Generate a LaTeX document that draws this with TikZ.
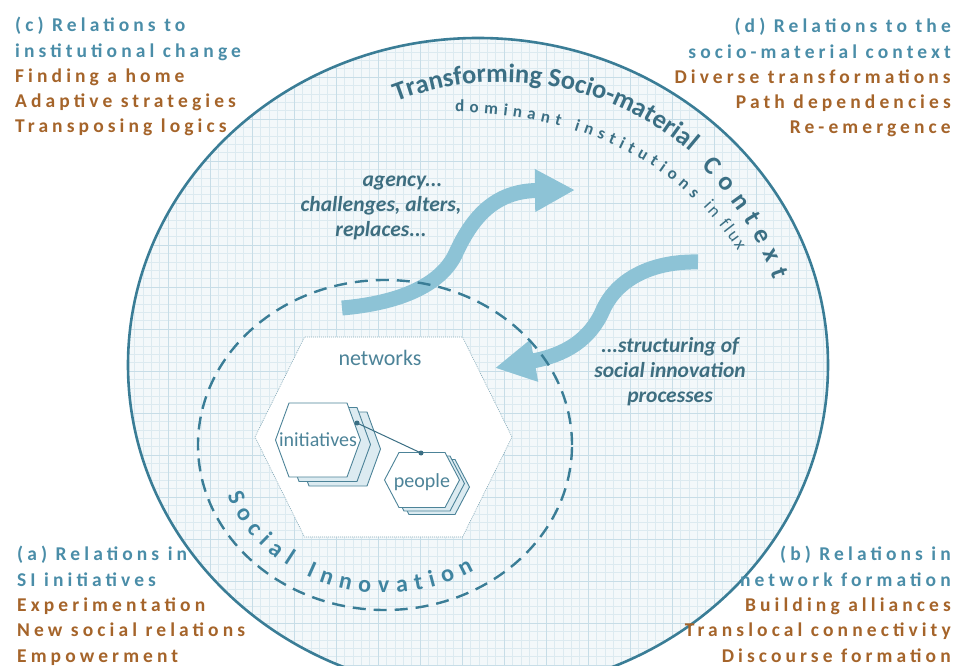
\documentclass[tikz,border=0pt]{standalone}
\usepackage{fontspec}
\setmainfont{Carlito}
\newfontfamily\spacedfont[LetterSpace=21]{Carlito}
\usepackage{tikz}
\usetikzlibrary{arrows.meta,calc,decorations.text}
\tikzset{>=stealth}

\definecolor{ctxline}{HTML}{3A7D96}
\definecolor{ctxtext}{HTML}{3B6F84}
\definecolor{sitext}{HTML}{3F84A0}
\definecolor{hdrblue}{HTML}{4A8DA8}
\definecolor{itembrown}{HTML}{A5642A}
\definecolor{arrowblue}{HTML}{8DC3D6}
\definecolor{flowcol}{HTML}{3E6E80}
\definecolor{gridfill}{HTML}{F3F8FA}
\definecolor{gridminor}{HTML}{DCEAF0}
\definecolor{gridmajor}{HTML}{C7DDE7}
\definecolor{hexline}{HTML}{4C8398}
\definecolor{stackback}{HTML}{DCEBF1}

\tikzset{
  minorgrid/.style={gridminor, line width=0.5pt},
  majorgrid/.style={gridmajor, line width=0.7pt},
  flowarrow/.style={arrowblue, line width=15pt, -{Triangle[length=40pt,width=40pt]}},
  sidash/.style={ctxline, line width=2.4pt, dash pattern=on 13pt off 8pt},
  nethex/.style={hexline!70, line width=0.6pt, dash pattern=on 1pt off 1pt, fill=white},
  stackhex/.style={hexline, line width=0.9pt},
  cornertext/.style={inner sep=0pt, text=itembrown, font=\spacedfont\bfseries\fontsize{19.5}{25.3}\selectfont},
  flowtext/.style={inner sep=0pt, align=center, text=flowcol, font=\bfseries\itshape\fontsize{21.5}{25}\selectfont},
  hextext/.style={inner sep=0pt, text=hexline, font=\fontsize{20}{22}\selectfont},
}
\newcommand\hd[1]{\textcolor{hdrblue}{#1}}
\def\hexpath[#1](#2)(#3:#4:#5){\draw[#1] ($(#2)+(-#3,0)$) -- ($(#2)+(-#5,#4)$) -- ($(#2)+(#5,#4)$) -- ($(#2)+(#3,0)$) -- ($(#2)+(#5,-#4)$) -- ($(#2)+(-#5,-#4)$) -- cycle;}

\begin{document}
\begin{tikzpicture}[x=1pt,y=1pt]
  \useasboundingbox (0,0) rectangle (956,665);
  \clip (0,0) rectangle (956,665);
  % Centres and radii
  \coordinate (ctx) at (478,300);
  \def\ctxA{350}
  \def\ctxB{327}
  \coordinate (arcc) at (501,291);
  \def\arcR{292}
  \coordinate (si) at (385,220);
  \def\siA{187}
  \def\siB{165}

  % Gridded context
  \begin{scope}
    \clip (ctx) ellipse [x radius=\ctxA, y radius=\ctxB];
    \fill[gridfill] (ctx) ellipse [x radius=\ctxA, y radius=\ctxB];
    \draw[minorgrid] (100,-40) grid[step=8.4] (860,640);
    \draw[majorgrid] (100,-40) grid[step=42] (860,640);
  \end{scope}
  \draw[ctxline, line width=2.6pt] (ctx) ellipse [x radius=\ctxA, y radius=\ctxB];

  % Flows
  \coordinate (agtail) at (342,357);
  \coordinate (agtip) at (575,475);
  \draw[flowarrow] (agtail) .. controls (400,362) and (440,380) .. (455,410)
    .. controls (472,448) and (495,474) .. (agtip);
  \coordinate (sttail) at (698,403);
  \coordinate (sttip) at (495,297);
  \draw[flowarrow] (sttail) .. controls (655,404) and (618,388) .. (603,355)
    .. controls (590,325) and (565,310) .. (sttip);

  % Social innovation
  \draw[sidash] (si) ellipse [x radius=\siA, y radius=\siB];

  % Networks, initiatives, people
  \hexpath[nethex](383.5,228)(128.5:100:79)
  \node[hextext, font=\fontsize{22}{24}\selectfont] (net) at (380,307) {networks};
  \foreach \k/\fc in {2/stackback,1/stackback,0/white}
    \hexpath[stackhex, fill=\fc](318+10*\k,225-4.5*\k)(42.5:37:29)
  \node[hextext] (ini) at (318,225) {initiatives};
  \foreach \k/\fc in {2/stackback,1/stackback,0/white}
    \hexpath[stackhex, fill=\fc](422+5*\k,185-3.5*\k)(37.5:27.5:23)
  \node[hextext] (ppl) at (422,183) {people};
  \coordinate (lnkA) at (357,242);
  \coordinate (lnkB) at (421,212);
  \draw[ctxtext, line width=1pt] (lnkA) -- (lnkB);
  \fill[ctxtext] (lnkA) circle (2.5) (lnkB) circle (2.5);

  % Curved labels
  \path[decorate, decoration={text along path, text align=left,
      text={|\color{ctxtext}\bfseries\fontsize{26.5}{28}\selectfont|Transforming Socio-material}}]
    (arcc) ++(111:\arcR) arc[start angle=111, end angle=46, radius=\arcR];
  \path[decorate, decoration={text along path, text align=fit to path,
      text={|\color{ctxtext}\bfseries\fontsize{26}{28}\selectfont|Context}}]
    (arcc) ++(46:\arcR-4) arc[start angle=46, end angle=19, radius=\arcR-4];
  \path[decorate, decoration={text along path, text align=fit to path,
      text={|\color{ctxtext}\bfseries\fontsize{17}{19}\selectfont|dominant institutions}}]
    (455,553) .. controls (545,552) and (636,524) .. (693,466);
  \path[decorate, decoration={text along path, text align=fit to path,
      text={|\color{ctxtext}\fontsize{18}{20}\selectfont|in flux}}]
    (703,458) .. controls (715,445) and (727,431) .. (738,414);
  \path[decorate, decoration={text along path, text align=fit to path,
      text={|\color{sitext}\bfseries\fontsize{24}{26}\selectfont|Social Innovation}}]
    (si) ++(200:168 and 148) arc[start angle=200, end angle=302, x radius=168, y radius=148];

  % Flow labels
  \node[flowtext, anchor=base] (agency) at (381,428) {\hspace*{2em}agency...\\challenges, alters,\\replaces...};
  \node[flowtext, anchor=base] (struct) at (670,262) {...structuring of\\social innovation\\processes};

  % Corner blocks
  \node[cornertext, align=left, anchor=base west] (relc) at (15,532)
    {\hd{(c) Relations to}\\\hd{institutional change}\\Finding a home\\Adaptive strategies\\Transposing logics};
  \node[cornertext, align=right, anchor=base east] (reld) at (951,531)
    {\hd{(d) Relations to the}\\\hd{socio-material context}\\Diverse transformations\\Path dependencies\\Re-emergence};
  \node[cornertext, align=left, anchor=base west] (rela) at (17,3)
    {\hd{(a) Relations in}\\\hd{SI initiatives}\\Experimentation\\New social relations\\Empowerment};
  \node[cornertext, align=right, anchor=base east] (relb) at (951,3)
    {\hd{(b) Relations in}\\\hd{network formation}\\Building alliances\\Translocal connectivity\\Discourse formation};
\end{tikzpicture}
\end{document}
